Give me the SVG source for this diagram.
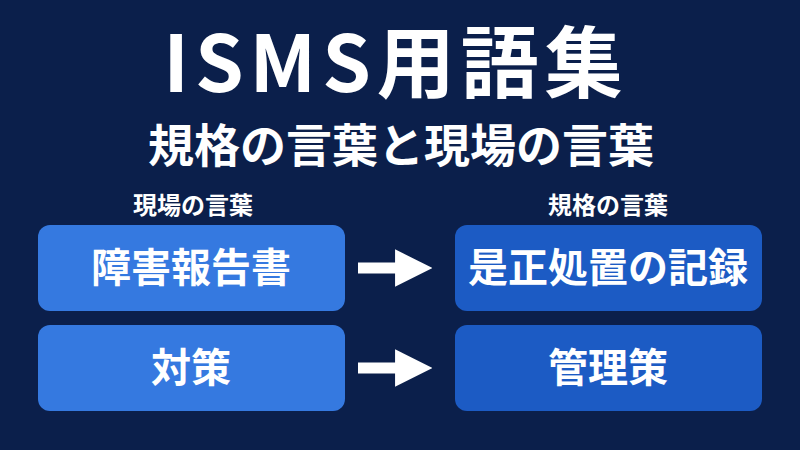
<svg xmlns="http://www.w3.org/2000/svg" width="800" height="450" viewBox="0 0 800 450">
<style>
text{font-family:"Noto Sans CJK JP","Noto Sans",sans-serif;font-weight:700;fill:#fff;text-anchor:middle}
.l{fill:#3579e0}
.r{fill:#1c5bc4}
.bt{font-size:40px}
.lab{font-size:24px}
</style>
<defs><marker id="ah" viewBox="0 0 10 10" refX="4" refY="5" markerWidth="3.4" markerHeight="4" orient="auto" markerUnits="strokeWidth"><path d="M0,0L10,5L0,10z" fill="#fff"/></marker></defs>
<rect width="800" height="450" fill="#0b1f4b"/>
<text x="396" y="92" font-size="78" letter-spacing="6">ISMS用語集</text>
<text x="401" y="162" font-size="46">規格の言葉と現場の言葉</text>
<text class="lab" x="193" y="214">現場の言葉</text>
<text class="lab" x="608" y="214">規格の言葉</text>
<g id="n1"><rect class="l" x="38" y="225" width="307" height="86" rx="12"/><text class="bt" x="191" y="282">障害報告書</text></g>
<g id="n2"><rect class="r" x="455" y="225" width="307" height="86" rx="12"/><text class="bt" x="608" y="282">是正処置の記録</text></g>
<g id="n3"><rect class="l" x="38" y="325" width="307" height="86" rx="12"/><text class="bt" x="191" y="382">対策</text></g>
<g id="n4"><rect class="r" x="455" y="325" width="307" height="86" rx="12"/><text class="bt" x="608" y="382">管理策</text></g>
<g id="edges" stroke="#fff" stroke-width="11">
<line x1="358" y1="268" x2="410" y2="268" marker-end="url(#ah)"/>
<line x1="358" y1="368" x2="410" y2="368" marker-end="url(#ah)"/>
</g>
</svg>
